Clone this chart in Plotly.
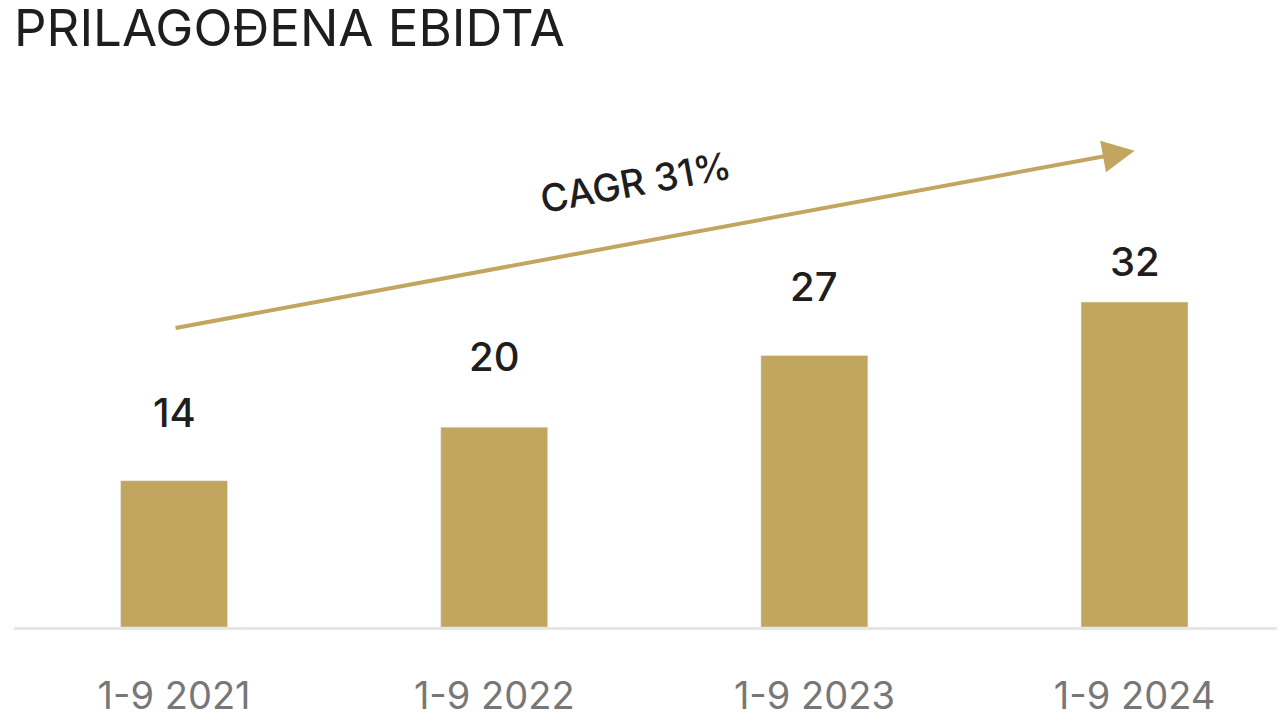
import plotly.graph_objects as go

# data
periods = ['1-9 2021', '1-9 2022', '1-9 2023', '1-9 2024']
ebitda = [14.5, 19.8, 26.9, 32.2]
labels = ['14', '20', '27', '32']
cagr_text = 'CAGR 31%'

gold = '#c2a55e'
dark = '#1e1e1e'

fig = go.Figure()
fig.add_trace(go.Bar(
    x=periods,
    y=ebitda,
    width=0.334,
    marker_color=gold,
    hoverinfo='skip'
))

# value labels above bars (last one sits closer to its bar)
shifts = [42, 44, 43, 14]
for p, v, t, s in zip(periods, ebitda, labels, shifts):
    fig.add_annotation(
        x=p, y=v, text=t, showarrow=False,
        yanchor='bottom', yshift=s,
        font=dict(family='Inter', size=40, color=dark, weight=500)
    )

# growth arrow
fig.add_annotation(
    x=3.0, y=47.2, ax=0.0, ay=29.6,
    xref='x', yref='y', axref='x', ayref='y',
    text='', showarrow=True,
    arrowhead=2, arrowsize=1.6, arrowwidth=4, arrowcolor=gold, standoff=0
)
fig.add_annotation(
    x=1.44, y=44.1, xref='x', yref='y',
    text=cagr_text, showarrow=False, textangle=-10.5,
    font=dict(family='Inter', size=38, color=dark, weight=500)
)

# page body adds an 8px offset, margins account for it
fig.update_layout(
    width=1285, height=712,
    margin=dict(l=6, r=8, t=72, b=93, autoexpand=False),
    paper_bgcolor='white',
    plot_bgcolor='white',
    showlegend=False,
    title=dict(
        text='PRILAGOĐENA EBIDTA',
        x=6 / 1285, xanchor='left',
        y=0.972, yanchor='middle',
        font=dict(family='Inter', size=51, color=dark)
    ),
    bargap=0.666
)
fig.update_xaxes(
    range=[-0.5, 3.47],
    showline=True, linecolor='#e6e6e6', linewidth=3,
    showgrid=False, zeroline=False, automargin=False,
    ticks='', ticklabelstandoff=33,
    tickfont=dict(family='Inter', size=38, color='#777777')
)
fig.update_yaxes(
    range=[0, 54.2],
    showgrid=False, zeroline=False, showticklabels=False, visible=False
)

fig.write_html('out.html')
